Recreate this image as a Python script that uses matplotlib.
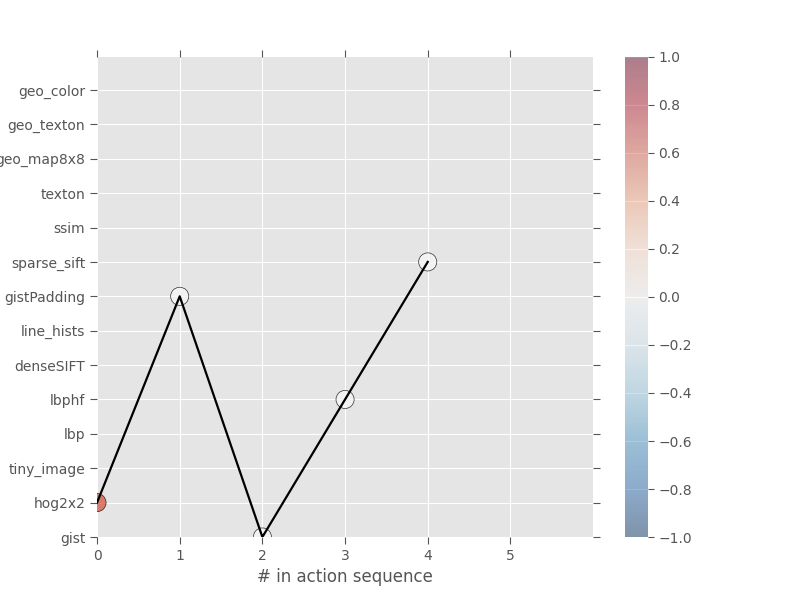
import matplotlib
matplotlib.use("Agg")
import matplotlib.pyplot as plt
import matplotlib.cm as cm
import matplotlib.colors as mcolors

plt.style.use("ggplot")

features = ["gist", "hog2x2", "tiny_image", "lbp", "lbphf", "denseSIFT",
            "line_hists", "gistPadding", "sparse_sift", "ssim", "texton",
            "geo_map8x8", "geo_texton", "geo_color"]
steps = [0, 1, 2, 3, 4]
actions = [1, 7, 0, 4, 8]          # index into features
rewards = [0.6, 0.0, 0.0, 0.0, 0.0]
xticks = [0, 1, 2, 3, 4, 5]
cbar_ticks = [-1.0, -0.8, -0.6, -0.4, -0.2, 0.0, 0.2, 0.4, 0.6, 0.8, 1.0]

fig = plt.figure(figsize=(7.98, 5.98), dpi=100)
ax = fig.add_axes([0.1216, 0.102, 0.6216, 0.8027])
cax = fig.add_axes([0.7832, 0.102, 0.0288, 0.8027])

norm = mcolors.Normalize(vmin=-1, vmax=1)
cmap = plt.get_cmap("RdBu_r")

sc = ax.scatter(steps, actions, c=rewards, cmap=cmap, norm=norm, s=170,
                edgecolors=(0, 0, 0, 0.5), linewidths=0.5, alpha=0.8, zorder=2)
ln, = ax.plot(steps, actions, color="black", linewidth=1.6, zorder=3)

ax.set_xlim(0, 6)
ax.set_ylim(0, 13.96)
ax.set_xticks(xticks)
ax.set_yticks(range(len(features)))
ax.set_yticklabels(features)
ax.tick_params(axis="both", which="both", direction="out", length=5,
               top=True, right=True, labelsize=10, colors="#555555")
for s in ax.spines.values():
    s.set_visible(False)
ax.set_xlabel("# in action sequence", fontsize=12, color="#555555", labelpad=4)

sm = cm.ScalarMappable(norm=norm, cmap=cmap)
sm.set_array([])
cb = fig.colorbar(sm, cax=cax, alpha=0.45, ticks=cbar_ticks)
cb.outline.set_visible(False)
cax.tick_params(direction="out", length=4, labelsize=10, colors="#555555")
cax.set_yticklabels(["\u22121.0", "\u22120.8", "\u22120.6", "\u22120.4", "\u22120.2",
                     "0.0", "0.2", "0.4", "0.6", "0.8", "1.0"])

fig.savefig("out.png", dpi=100)
